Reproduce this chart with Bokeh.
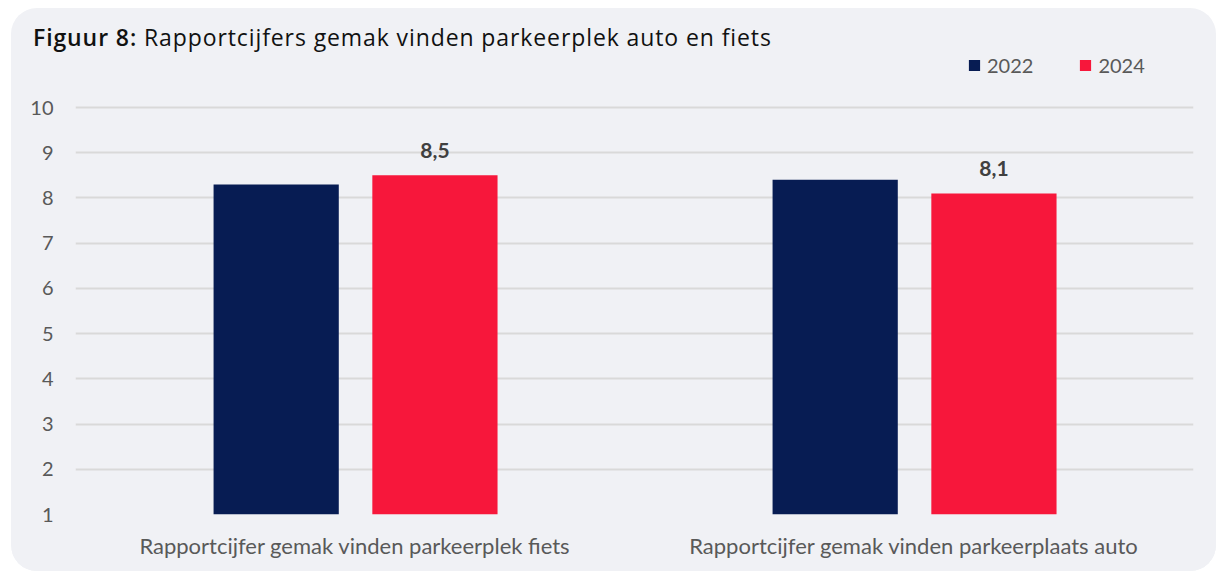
from bokeh.plotting import figure
from bokeh.models import (FactorRange, ColumnDataSource, Legend, LegendItem,
                          FixedTicker, Range1d, Div)
from bokeh.layouts import column
from bokeh.transform import dodge
from bokeh.embed import file_html
from bokeh.resources import INLINE
from bokeh.core.properties import value

categories = ["Rapportcijfer gemak vinden parkeerplek fiets",
              "Rapportcijfer gemak vinden parkeerplaats auto"]
years = ["2022", "2024"]
values_2022 = [8.3, 8.4]
values_2024 = [8.5, 8.1]
labels_2024 = ["8,5", "8,1"]
y_ticks = [1, 2, 3, 4, 5, 6, 7, 8, 9, 10]
title_bold = "Figuur 8:"
title_rest = "Rapportcijfers gemak vinden parkeerplek auto en fiets"

BG = "#f0f1f5"
NAVY = "#071c53"
RED = "#f7173b"
TICK = "#595959"
FONT = "Lato"

src = ColumnDataSource(dict(cat=categories, v2022=values_2022, v2024=values_2024,
                            lab=labels_2024))

W = 1205
DIV_H = 44
FIG_H = 519

p = figure(x_range=FactorRange(*categories, range_padding=0),
           y_range=Range1d(1, 10 + 55 / 45.222),
           width=W, height=FIG_H, output_backend="svg", toolbar_location=None,
           min_border_left=64, min_border_right=23, min_border_top=0, min_border_bottom=57)
p.margin = (0, 0, 0, 0)
p.background_fill_color = BG
p.border_fill_color = BG
p.outline_line_color = None

r1 = p.vbar(x=dodge("cat", -0.141, range=p.x_range), top="v2022", bottom=1, width=0.224,
            source=src, color=NAVY, line_color=None)
r2 = p.vbar(x=dodge("cat", 0.143, range=p.x_range), top="v2024", bottom=1, width=0.224,
            source=src, color=RED, line_color=None)
p.text(x=dodge("cat", 0.143, range=p.x_range), y="v2024", text="lab", source=src,
       y_offset=-25, text_align="center", text_baseline="alphabetic",
       text_font=value(FONT), text_font_style="bold", text_font_size="21px",
       text_color="#404040")

p.yaxis.ticker = FixedTicker(ticks=y_ticks)
p.yaxis.axis_line_color = None
p.yaxis.major_tick_line_color = None
p.yaxis.minor_tick_line_color = None
p.yaxis.major_label_text_font = FONT
p.yaxis.major_label_text_font_size = "20px"
p.yaxis.major_label_text_color = TICK
p.yaxis.major_label_standoff = 16

p.xaxis.axis_line_color = None
p.xaxis.major_tick_line_color = None
p.xaxis.major_label_text_font = FONT
p.xaxis.major_label_text_font_size = "22px"
p.xaxis.major_label_text_color = TICK
p.xaxis.major_label_standoff = 11

p.xgrid.grid_line_color = None
p.ygrid.grid_line_color = "#d9d9d9"
p.ygrid.grid_line_width = 2

legend = Legend(items=[LegendItem(label=years[0], renderers=[r1]),
                       LegendItem(label=years[1], renderers=[r2])],
                orientation="horizontal", location=(892, 437),
                glyph_width=14, glyph_height=14, label_standoff=6, spacing=45,
                label_height=20, padding=0, margin=0, border_line_color=None,
                background_fill_alpha=0,
                label_text_font=FONT, label_text_font_size="20px", label_text_color=TICK)
p.add_layout(legend, "center")

div = Div(text=(f'<div style="padding:14px 0 0 22px; font-family:\'Open Sans\', sans-serif; '
                f'font-size:23px; line-height:30px; letter-spacing:0.9px; color:#111111; '
                f'white-space:nowrap;"><b style="font-weight:600;">{title_bold}</b> '
                f'{title_rest}</div>'),
          width=W, height=DIV_H)
div.margin = (0, 0, 0, 0)
div.styles = {"margin": "0", "padding": "0"}

layout = column(div, p, width=W, spacing=0)
layout.margin = (8, 0, 0, 11)
layout.styles = {"background-color": BG, "border-radius": "26px", "overflow": "hidden"}

open("out.html", "w").write(file_html(layout, INLINE))
